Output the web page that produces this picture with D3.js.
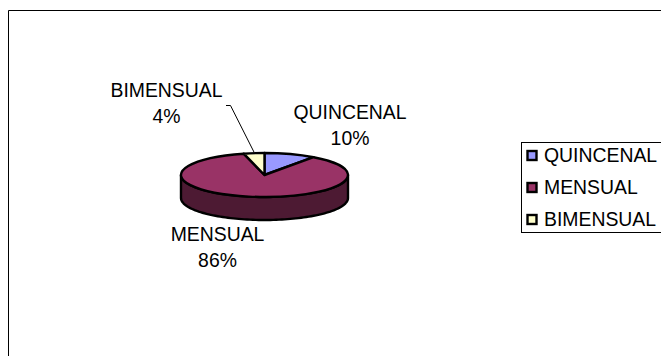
<!DOCTYPE html>
<html>
<head>
<meta charset="utf-8">
<script src="https://cdn.jsdelivr.net/npm/d3@7"></script>
<style>
  html, body { margin: 0; padding: 0; background: #fff; }
  svg { display: block; }
  text { font-family: "Liberation Sans", Arial, sans-serif; fill: #000; }
</style>
</head>
<body>
<script>
// Frequency categories and their shares, in percent
const categories = ["QUINCENAL", "MENSUAL", "BIMENSUAL"];
const shares = [10, 86, 4];
const fills = ["#9999ff", "#993366", "#ffffcc"];
const sideFill = "#4d1a33";

const width = 661, height = 356;
const cx = 264.5, cy = 175, rx = 83.5, ry = 22, depth = 23;
const fontSize = 19.4;

const svg = d3.select("body").append("svg")
  .attr("width", width).attr("height", height);

// Chart frame: only the top and left edges fall inside the page
svg.append("path")
  .attr("d", d3.line()([[8.5, height], [8.5, 10.5], [width, 10.5]]))
  .attr("fill", "none").attr("stroke", "#000").attr("stroke-width", 1);

// Slice angles run clockwise from twelve o'clock
const arcs = d3.pie().sort(null).value(d => d)(shares);

// Point on the tilted rim at angle a
const rimX = a => cx + rx * Math.sin(a);
const rimY = a => cy - ry * Math.cos(a);

// Visible wall: front half of the rim, swept down by the pie's thickness
const frontAngles = d3.range(Math.PI / 2, 3 * Math.PI / 2 + 0.001, Math.PI / 90);
const wall = d3.area()
  .x(rimX)
  .y0(rimY)
  .y1(a => rimY(a) + depth);
svg.append("path")
  .attr("d", wall(frontAngles))
  .attr("fill", sideFill)
  .attr("stroke", "#000").attr("stroke-width", 2.4).attr("stroke-linejoin", "round");

// Top face: unit-radius slices flattened into an ellipse
const unitArc = d3.arc().innerRadius(0).outerRadius(1);
svg.append("g")
  .attr("transform", `translate(${cx},${cy}) scale(${rx},${ry})`)
  .selectAll("path")
  .data(arcs)
  .join("path")
  .attr("d", unitArc)
  .attr("fill", (d, i) => fills[i])
  .attr("stroke", "#000")
  .attr("stroke-width", 2.4)
  .attr("stroke-linejoin", "round")
  .attr("vector-effect", "non-scaling-stroke");

// Leader line from the BIMENSUAL label to its slice
const bim = arcs[2];
const bimMid = (bim.startAngle + bim.endAngle) / 2;
svg.append("path")
  .attr("d", d3.line()([[226, 105.5], [230.5, 105.5], [rimX(bimMid), rimY(bimMid) - 1]]))
  .attr("fill", "none").attr("stroke", "#000").attr("stroke-width", 1);

// Data labels: category name over its percentage
const labelPos = [[350, 119], [217.5, 241], [166.5, 97]];
const labels = svg.append("g").attr("text-anchor", "middle")
  .selectAll("text")
  .data(categories)
  .join("text")
  .attr("font-size", fontSize)
  .attr("x", (d, i) => labelPos[i][0])
  .attr("y", (d, i) => labelPos[i][1]);
labels.append("tspan").text(d => d);
labels.append("tspan")
  .attr("x", (d, i) => labelPos[i][0])
  .attr("dy", 26)
  .text((d, i) => shares[i] + "%");

// Legend box runs off the right edge of the page
const legendX = 521.5, legendY = 142.5, legendH = 90;
svg.append("rect")
  .attr("x", legendX).attr("y", legendY)
  .attr("width", width - legendX + 5).attr("height", legendH)
  .attr("fill", "#fff").attr("stroke", "#000").attr("stroke-width", 1);

const rowY = d3.scalePoint().domain(categories).range([155.5, 219.5]);
const legend = svg.append("g").selectAll("g")
  .data(categories)
  .join("g")
  .attr("transform", d => `translate(0,${rowY(d)})`);
legend.append("rect")
  .attr("x", 527.5).attr("y", -4.5).attr("width", 9).attr("height", 9)
  .attr("fill", (d, i) => fills[i])
  .attr("stroke", "#000").attr("stroke-width", 2.4);
legend.append("text")
  .attr("x", 544).attr("y", 6.5)
  .attr("font-size", fontSize)
  .text(d => d);
</script>
</body>
</html>
